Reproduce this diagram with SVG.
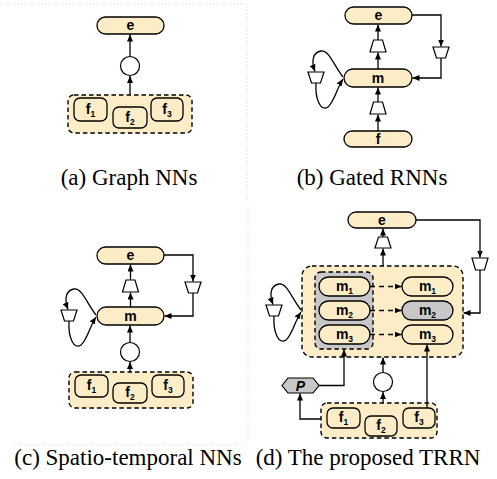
<svg xmlns="http://www.w3.org/2000/svg" width="497" height="479" viewBox="0 0 497 479">
<defs>
<marker id="ah" markerWidth="7" markerHeight="6" refX="7" refY="3" orient="auto" markerUnits="userSpaceOnUse"><path d="M0,0 L7,3 L0,6 z" fill="#000"/></marker>
<style>
.pill{fill:#fdedc7;stroke:#000;stroke-width:1.3}
.gpill{fill:#c8c8c8;stroke:#000;stroke-width:1.3}
.box{fill:#fdedc7;stroke:#000;stroke-width:1.4;stroke-dasharray:4.5,3}
.gbox{fill:#c8c8c8;stroke:#000;stroke-width:1.4;stroke-dasharray:4.5,3}
.gate{fill:#fff;stroke:#000;stroke-width:1.2}
.circ{fill:#fff;stroke:#000;stroke-width:1.2}
.ln{fill:none;stroke:#000;stroke-width:1.3;marker-end:url(#ah)}
.dln{fill:none;stroke:#000;stroke-width:1.3;stroke-dasharray:5,4;marker-end:url(#ah)}
.lbl{font-family:"Liberation Sans",Arial,sans-serif;font-weight:bold;font-size:14px;text-anchor:middle;fill:#000}
.sub{font-size:8.5px}
.cap{font-family:"Liberation Serif","Times New Roman",serif;font-size:23px;fill:#000}
.sep{fill:none;stroke:#dcdcdc;stroke-width:1;stroke-dasharray:1,2}
</style>
</defs>
<rect width="497" height="479" fill="#fff"/>
<g id="separators">
<path class="sep" d="M0,4 H245 M247,4 V200 M248,205 V440 M15,445 H245"/>
</g>

<!-- Panel (a) -->
<g id="a-e"><rect class="pill" x="97" y="17" width="67" height="17" rx="8.5"/><text class="lbl" x="130.5" y="30">e</text></g>
<g id="a-agg"><circle class="circ" cx="130" cy="66" r="9.5"/></g>
<g id="a-fbox"><rect class="box" x="68" y="95" width="124" height="38" rx="6"/></g>
<g id="a-f1"><rect class="pill" x="74" y="98" width="33" height="23" rx="6"/><text class="lbl" x="90.5" y="114">f<tspan class="sub" dy="3">1</tspan></text></g>
<g id="a-f2"><rect class="pill" x="113" y="107" width="34" height="21" rx="6"/><text class="lbl" x="130" y="122">f<tspan class="sub" dy="3">2</tspan></text></g>
<g id="a-f3"><rect class="pill" x="151" y="98" width="32" height="23" rx="6"/><text class="lbl" x="167" y="114">f<tspan class="sub" dy="3">3</tspan></text></g>
<g id="a-connectors">
<path class="ln" d="M130,56.5 V34.5"/>
<path class="ln" d="M130,95 V76"/>
</g>
<text class="cap" x="129" y="185" text-anchor="middle">(a)  Graph NNs</text>

<!-- Panel (b) -->
<g id="b-e"><rect class="pill" x="345" y="7" width="67" height="17" rx="8.5"/><text class="lbl" x="378.5" y="20">e</text></g>
<g id="b-m"><rect class="pill" x="344" y="69" width="68" height="18" rx="9"/><text class="lbl" x="378" y="82.5">m</text></g>
<g id="b-f"><rect class="pill" x="344" y="131" width="68" height="16" rx="8"/><text class="lbl" x="378" y="144">f</text></g>
<g id="b-gate1"><path class="gate" d="M373.5,40 H382.5 L386,52 H370 z"/></g>
<g id="b-gate2"><path class="gate" d="M373.5,102 H382.5 L386,114 H370 z"/></g>
<g id="b-gate3"><path class="gate" d="M433,47 H449 L445.5,58 H436.5 z"/></g>
<g id="b-gate4"><path class="gate" d="M308,72 H324 L320.5,83 H311.5 z"/></g>
<g id="b-connectors">
<path class="ln" d="M378,69 V52.5"/>
<path class="ln" d="M378,40 V24.5"/>
<path class="ln" d="M378,131 V114.5"/>
<path class="ln" d="M378,102 V87.5"/>
<path class="ln" d="M412,15 H441 V46.5"/>
<path class="ln" d="M441,58 V78 H412.5"/>
<path class="ln" d="M343,77 C333,64 329,50 321,51 C313,52 311,61 315,71.5"/>
<path class="ln" d="M316,83 C315,100 321,112 328,107 C334,102 337,88 343,79"/>
</g>
<text class="cap" x="372" y="185" text-anchor="middle">(b)  Gated RNNs</text>

<!-- Panel (c) -->
<g id="c-e"><rect class="pill" x="97" y="247" width="67" height="17" rx="8.5"/><text class="lbl" x="130.5" y="260">e</text></g>
<g id="c-m"><rect class="pill" x="97" y="307" width="67" height="18" rx="9"/><text class="lbl" x="130.5" y="320.5">m</text></g>
<g id="c-gate1"><path class="gate" d="M126,280 H135 L138.5,292 H122.5 z"/></g>
<g id="c-gate2"><path class="gate" d="M185,282 H201 L197.5,293 H188.5 z"/></g>
<g id="c-gate3"><path class="gate" d="M61,310 H77 L73.5,321 H64.5 z"/></g>
<g id="c-agg"><circle class="circ" cx="130" cy="352" r="9.5"/></g>
<g id="c-fbox"><rect class="box" x="69" y="372" width="124" height="36" rx="6"/></g>
<g id="c-f1"><rect class="pill" x="75" y="375" width="33" height="22" rx="6"/><text class="lbl" x="91.5" y="390">f<tspan class="sub" dy="3">1</tspan></text></g>
<g id="c-f2"><rect class="pill" x="113" y="383" width="34" height="20" rx="6"/><text class="lbl" x="130" y="397">f<tspan class="sub" dy="3">2</tspan></text></g>
<g id="c-f3"><rect class="pill" x="152" y="375" width="32" height="22" rx="6"/><text class="lbl" x="168" y="390">f<tspan class="sub" dy="3">3</tspan></text></g>
<g id="c-connectors">
<path class="ln" d="M130.5,307 V292.5"/>
<path class="ln" d="M130.5,280 V264.5"/>
<path class="ln" d="M164,255 H193 V281.5"/>
<path class="ln" d="M193,293 V316 H164.5"/>
<path class="ln" d="M130,342.5 V325.5"/>
<path class="ln" d="M130,372 V362"/>
<path class="ln" d="M96,315 C86,302 82,288 74,289 C66,290 64,299 68,309.5"/>
<path class="ln" d="M69,321 C68,338 74,350 81,345 C87,340 90,326 96,317"/>
</g>
<text class="cap" x="128" y="465" text-anchor="middle">(c)  Spatio-temporal NNs</text>

<!-- Panel (d) -->
<g id="d-e"><rect class="pill" x="348" y="212" width="68" height="16" rx="8"/><text class="lbl" x="382" y="224.5">e</text></g>
<g id="d-gate1"><path class="gate" d="M378.5,237 H387.5 L391,248 H375 z"/></g>
<g id="d-gate2"><path class="gate" d="M472,258 H488 L484.5,270 H475.5 z"/></g>
<g id="d-gate3"><path class="gate" d="M266,305 H282 L278.5,316 H269.5 z"/></g>
<g id="d-mbox"><rect class="box" x="302" y="266" width="161" height="91" rx="10"/></g>
<g id="d-gbox"><rect class="gbox" x="315" y="272" width="58" height="77" rx="6"/></g>
<g id="d-m1a"><rect class="pill" x="319" y="277" width="51" height="19" rx="9.5"/><text class="lbl" x="344.5" y="290.5">m<tspan class="sub" dy="3">1</tspan></text></g>
<g id="d-m2a"><rect class="pill" x="319" y="301" width="51" height="19" rx="9.5"/><text class="lbl" x="344.5" y="314.5">m<tspan class="sub" dy="3">2</tspan></text></g>
<g id="d-m3a"><rect class="pill" x="319" y="325" width="51" height="19" rx="9.5"/><text class="lbl" x="344.5" y="338.5">m<tspan class="sub" dy="3">3</tspan></text></g>
<g id="d-m1b"><rect class="pill" x="402" y="277" width="51" height="19" rx="9.5"/><text class="lbl" x="427.5" y="290.5">m<tspan class="sub" dy="3">1</tspan></text></g>
<g id="d-m2b"><rect class="gpill" x="402" y="301" width="51" height="19" rx="9.5"/><text class="lbl" x="427.5" y="314.5">m<tspan class="sub" dy="3">2</tspan></text></g>
<g id="d-m3b"><rect class="pill" x="402" y="325" width="51" height="19" rx="9.5"/><text class="lbl" x="427.5" y="338.5">m<tspan class="sub" dy="3">3</tspan></text></g>
<g id="d-P"><path d="M282,385.5 L288,378 H313 L319,385.5 L313,393 H288 z" fill="#c8c8c8" stroke="#000" stroke-width="1.2"/><text class="lbl" x="300.5" y="390.5" font-style="italic">P</text></g>
<g id="d-agg"><circle class="circ" cx="383" cy="382" r="9.5"/></g>
<g id="d-fbox"><rect class="box" x="321" y="403" width="116" height="35" rx="6"/></g>
<g id="d-f1"><rect class="pill" x="327" y="408" width="33" height="20" rx="6"/><text class="lbl" x="343.5" y="422">f<tspan class="sub" dy="3">1</tspan></text></g>
<g id="d-f2"><rect class="pill" x="365" y="416" width="32" height="20" rx="6"/><text class="lbl" x="381" y="430">f<tspan class="sub" dy="3">2</tspan></text></g>
<g id="d-f3"><rect class="pill" x="403" y="408" width="32" height="20" rx="6"/><text class="lbl" x="419" y="422">f<tspan class="sub" dy="3">3</tspan></text></g>
<g id="d-connectors">
<path class="ln" d="M383,266 V248.5"/>
<path class="ln" d="M383,237 V228.5"/>
<path class="ln" d="M416,220 H480 V257.5"/>
<path class="ln" d="M480,270 V313 H463.5"/>
<path class="dln" d="M370,286.5 H401.5"/>
<path class="dln" d="M370,310.5 H401.5"/>
<path class="dln" d="M370,334.5 H401.5"/>
<path class="ln" d="M383,403 V392"/>
<path class="ln" d="M383,372.5 V357.5"/>
<path class="ln" d="M427,408 V344.5"/>
<path class="ln" d="M319,385.5 H344 V349.5"/>
<path class="ln" d="M321,419 H300 V393.5"/>
<path class="ln" d="M301,310 C291,297 287,283 279,284 C271,285 269,294 273,304.5"/>
<path class="ln" d="M274,316 C273,333 279,345 286,340 C292,335 295,321 301,312"/>
</g>
<text class="cap" x="368" y="465" text-anchor="middle">(d)  The proposed TRRN</text>
</svg>
